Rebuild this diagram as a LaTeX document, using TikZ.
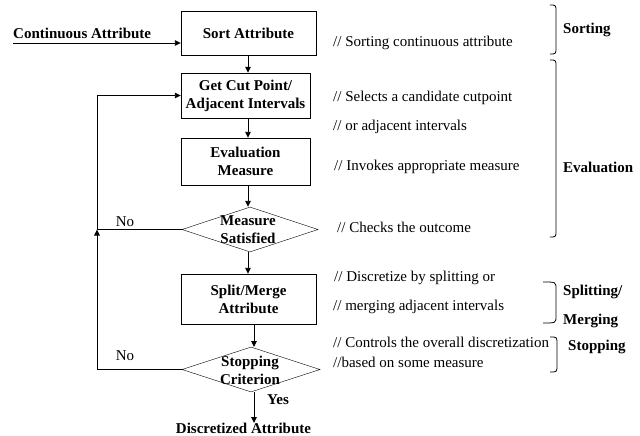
\documentclass[tikz,border=0pt]{standalone}
\usepackage{fontspec}
\setmainfont{Liberation Serif}
\usetikzlibrary{arrows.meta,shapes.geometric}
\tikzset{
  every node/.style={font=\fontsize{15}{18}\selectfont},
  lbl/.style={inner sep=0pt},
  bold/.style={inner sep=0pt, align=center, font=\fontsize{15}{18}\selectfont\bfseries},
  boxnode/.style={draw, rectangle, inner sep=0pt, align=center, font=\fontsize{15}{18}\selectfont\bfseries},
  dia/.style={draw, diamond, inner sep=0pt},
  conn/.style={line width=0.9pt},
  arr/.style={line width=0.9pt, -{Triangle[length=6pt,width=5.5pt]}},
  brace/.style={line width=0.8pt},
}
\newcommand{\mybrace}[4]{% x0 x1 top bottom
  \draw[brace] (#1,#3) .. controls (#2,#3) and (#2,#3) .. (#2,#3+7) -- (#2,#4-7) .. controls (#2,#4) and (#2,#4) .. (#1,#4);}
\begin{document}
\begin{tikzpicture}[x=1pt,y=-1pt]
\useasboundingbox (0,0) rectangle (640,436);
% boxes
\node[boxnode, minimum width=135pt, minimum height=44pt] (sort) at (248.5,33) {Sort Attribute};
\node[boxnode, minimum width=129pt, minimum height=45pt] (get) at (245.5,95.5) {Get Cut Point/\\Adjacent Intervals};
\node[boxnode, minimum width=129pt, minimum height=47pt] (eval) at (245.5,161.5) {Evaluation\\Measure};
\node[dia, minimum width=136pt, minimum height=45pt] (d1) at (250,229.5) {};
\node[bold] (d1t) at (248,230) {Measure\\Satisfied};
\node[boxnode, minimum width=135pt, minimum height=50pt] (split) at (248.5,299) {Split/Merge\\Attribute};
\node[dia, minimum width=138pt, minimum height=45pt] (d2) at (251,369.5) {};
\node[bold] (d2t) at (250,370) {Stopping\\Criterion};
% input
\node[bold, anchor=west] (cin) at (13,33) {Continuous Attribute};
\coordinate (inp) at (13,43);
\draw[arr] (inp) -- (inp -| sort.west);
% vertical flow
\draw[arr] (sort.south -| 248,0) -- (get.north -| 248,0);
\draw[arr] (get.south -| 248,0) -- (eval.north -| 248,0);
\draw[arr] (eval.south -| 248,0) -- (d1.north -| 248,0);
\draw[arr] (d1.south -| 248,0) -- (split.north -| 248,0);
\draw[arr] (split.south -| 254,0) -- (254,347);
% output
\node[bold] (out) at (243.5,428) {Discretized Attribute};
\coordinate (outtip) at (254,423);
\draw[arr] (254,392) -- (outtip);
\node[bold] (yes) at (278,400) {Yes};
% feedback
\coordinate (j) at (97,229.5);
\draw[arr] (d2.west) -| (j);
\draw[conn] (d1.west) -- (j);
\draw[arr] (j) |- (get.west);
\node[lbl] (no1) at (125,222) {No};
\node[lbl] (no2) at (125,356) {No};
% comments
\node[lbl, anchor=west] (c1) at (333,43) {// Sorting continuous attribute};
\node[lbl, anchor=west] (c2) at (333,98) {// Selects a candidate cutpoint};
\node[lbl, anchor=west] (c3) at (333,127) {// or adjacent intervals};
\node[lbl, anchor=west] (c4) at (334,167) {// Invokes appropriate measure};
\node[lbl, anchor=west] (c5) at (337,227) {// Checks the outcome};
\node[lbl, anchor=west] (c6) at (334,278) {// Discretize by splitting or};
\node[lbl, anchor=west] (c7) at (333,307) {// merging adjacent intervals};
\node[lbl, anchor=west] (c8) at (333,342) {// Controls the overall discretization};
\node[lbl, anchor=west] (c9) at (333,362) {//based on some measure};
% braces
\mybrace{550}{556}{5}{54}
\mybrace{550}{556}{60}{237}
\mybrace{543}{556}{282}{323}
\mybrace{550}{557}{337}{372}
\node[bold, anchor=west] (s1) at (563,30) {Sorting};
\node[bold, anchor=west] (s2) at (563,167) {Evaluation};
\node[bold, anchor=west] (s3) at (563,292) {Splitting/};
\node[bold, anchor=west] (s4) at (563,321) {Merging};
\node[bold, anchor=west] (s5) at (568,347) {Stopping};
\end{tikzpicture}
\end{document}
